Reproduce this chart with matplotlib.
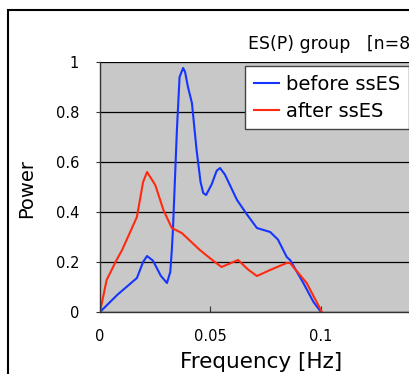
import matplotlib
matplotlib.use("Agg")
import matplotlib.pyplot as plt
from matplotlib.patches import Rectangle

plt.rcParams['font.family'] = ['DejaVu Sans']

# values
freq_before = [0.0, 0.008, 0.0167, 0.0195, 0.0213, 0.024, 0.0275, 0.0303, 0.0318, 0.0325,
               0.033, 0.0348, 0.036, 0.0376, 0.0385, 0.0398, 0.0416, 0.0437, 0.0455,
               0.0467, 0.048, 0.0505, 0.0528, 0.0543, 0.0565, 0.062, 0.0665, 0.071,
               0.077, 0.0805, 0.0845, 0.086, 0.092, 0.0966, 0.1]
power_before = [0.0, 0.07, 0.136, 0.2, 0.224, 0.205, 0.145, 0.116, 0.16, 0.248,
                0.328, 0.728, 0.94, 0.976, 0.96, 0.9, 0.836, 0.648, 0.52,
                0.476, 0.468, 0.51, 0.565, 0.576, 0.55, 0.448, 0.39, 0.336,
                0.32, 0.29, 0.22, 0.208, 0.116, 0.04, 0.0]

freq_after = [0.0, 0.003, 0.0075, 0.01, 0.0167, 0.0195, 0.0213, 0.025, 0.0287, 0.0325,
              0.037, 0.0452, 0.0505, 0.055, 0.059, 0.0625, 0.067, 0.071, 0.078,
              0.0845, 0.086, 0.0935, 0.1004]
power_after = [0.0, 0.128, 0.208, 0.248, 0.38, 0.52, 0.56, 0.508, 0.408, 0.336,
               0.316, 0.248, 0.21, 0.18, 0.195, 0.208, 0.17, 0.144, 0.172,
               0.196, 0.196, 0.116, 0.0]

labels = ['before ssES', 'after ssES']
title_text = 'ES(P) group   [n=8]'
x_ticks = [0, 0.05, 0.1]
x_tick_labels = ['0', '0.05', '0.1']
y_ticks = [0, 0.2, 0.4, 0.6, 0.8, 1]
y_tick_labels = ['0', '0.2', '0.4', '0.6', '0.8', '1']

W, H = 410, 374
fig = plt.figure(figsize=(W / 100, H / 100), dpi=100)

# outer chart frame (cut off at right and bottom like the reference)
frame = Rectangle((8 / W, -0.1), 1.2, (H - 10) / H + 0.1, transform=fig.transFigure,
                  fill=False, edgecolor='black', linewidth=1.5)
fig.patches.append(frame)

ax = fig.add_axes([100 / W, 62 / H, 331.5 / W, 250 / H])
ax.set_facecolor('#c8c8c8')

ax.plot(freq_before, power_before, color='#1535ff', linewidth=1.5, label=labels[0])
ax.plot(freq_after, power_after, color='#ff2a10', linewidth=1.5, label=labels[1])

ax.set_xlim(0, 0.15)
ax.set_ylim(0, 1)
ax.set_xticks(x_ticks)
ax.set_xticklabels(x_tick_labels, fontsize=10.5)
ax.set_yticks(y_ticks)
ax.set_yticklabels(y_tick_labels, fontsize=10.5)
ax.tick_params(axis='x', direction='in', length=4, pad=12, color='#333333')
ax.tick_params(axis='y', direction='out', length=3, pad=12, color='#333333')
ax.grid(axis='y', color='black', linewidth=0.9)
ax.set_axisbelow(True)
for side in ['top', 'right']:
    ax.spines[side].set_visible(False)
for side in ['left', 'bottom']:
    ax.spines[side].set_color('#333333')
    ax.spines[side].set_linewidth(1.0)

fig.text(261 / W, 1 - 362 / H, 'Frequency [Hz]', fontsize=15.5, ha='center', va='center')
fig.text(27 / W, 1 - 188 / H, 'Power', fontsize=14, ha='center', va='center', rotation=90)

fig.text(248 / W, 1 - 44 / H, title_text, fontsize=12.5, va='center', ha='left')

leg = ax.legend(loc='upper left', bbox_to_anchor=(245 / W, 1 - 66 / H),
                bbox_transform=fig.transFigure, fontsize=14, frameon=True,
                fancybox=False, handlelength=1.3, handletextpad=0.35,
                borderpad=0.45, labelspacing=0.4, borderaxespad=0)
leg.get_frame().set_edgecolor('#444444')
leg.get_frame().set_facecolor('white')
leg.get_frame().set_linewidth(1.0)
leg.get_frame().set_alpha(1)

fig.savefig('out.png', dpi=100)
